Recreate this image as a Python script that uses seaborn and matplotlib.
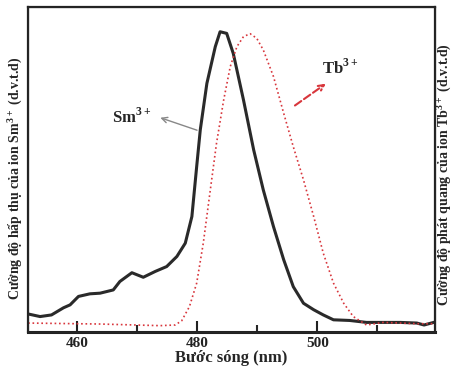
import matplotlib
matplotlib.use('Agg')
import matplotlib.pyplot as plt
from matplotlib.ticker import MultipleLocator
import seaborn as sns
import pandas as pd

# Sm3+ absorption (black) - wavelength (nm) and relative intensity
sm_wavelength = [451.8, 453.8, 455.7, 457.7, 458.8, 460.2, 462.1, 463.8, 466.0, 467.1,
                 469.1, 471.0, 473.0, 474.9, 476.6, 478.0, 479.1, 479.9, 480.5, 481.6,
                 483.0, 483.8, 484.9, 486.0, 487.7, 489.4, 491.0, 492.7, 494.4, 496.0,
                 497.7, 499.4, 501.0, 502.7, 505.4, 508.2, 511.0, 513.8, 516.6, 517.8, 519.6]
sm_intensity = [0.055, 0.047, 0.052, 0.074, 0.083, 0.109, 0.117, 0.119, 0.129, 0.155,
                0.182, 0.168, 0.186, 0.201, 0.232, 0.273, 0.355, 0.509, 0.622, 0.765,
                0.878, 0.924, 0.919, 0.857, 0.714, 0.560, 0.437, 0.324, 0.222, 0.139,
                0.088, 0.068, 0.052, 0.037, 0.035, 0.029, 0.029, 0.029, 0.027, 0.021, 0.030]

# Tb3+ emission (red dotted)
tb_wavelength = [451.8, 463.8, 473.8, 476.3, 477.4, 478.7, 479.9, 481.0, 482.1, 483.2,
                 484.4, 485.5, 486.6, 487.7, 488.8, 489.9, 491.0, 492.7, 494.4, 496.0,
                 497.7, 499.4, 501.0, 502.7, 504.4, 506.0, 507.7, 508.2, 511.0, 513.8,
                 516.6, 519.6]
tb_intensity = [0.027, 0.024, 0.019, 0.021, 0.034, 0.078, 0.150, 0.273, 0.427, 0.580,
                0.714, 0.817, 0.878, 0.909, 0.918, 0.904, 0.868, 0.786, 0.673, 0.570,
                0.468, 0.355, 0.242, 0.150, 0.088, 0.047, 0.027, 0.021, 0.029, 0.027,
                0.025, 0.025]

x_ticks = [460, 480, 500]


def main():
    sns.set_style('ticks')
    plt.rcParams['font.family'] = ['Liberation Serif', 'DejaVu Serif']
    plt.rcParams['font.weight'] = 'bold'
    plt.rcParams['mathtext.fontset'] = 'custom'
    plt.rcParams['mathtext.rm'] = 'Liberation Serif:bold'
    plt.rcParams['mathtext.bf'] = 'Liberation Serif:bold'

    sm = pd.DataFrame({'wl': sm_wavelength, 'I': sm_intensity})
    tb = pd.DataFrame({'wl': tb_wavelength, 'I': tb_intensity})

    fig = plt.figure(figsize=(4.53, 3.72), dpi=100)
    ax = fig.add_axes([0.062, 0.108, 0.898, 0.873])
    ax2 = ax.twinx()

    sns.lineplot(data=sm, x='wl', y='I', ax=ax, color='#2a2a2a', linewidth=2.2,
                 estimator=None, sort=False)
    sns.lineplot(data=tb, x='wl', y='I', ax=ax2, color='#d8363c', linewidth=1.2,
                 linestyle=':', estimator=None, sort=False)

    for a in (ax, ax2):
        a.set_xlim(451.8, 519.6)
        a.set_ylim(0, 1)
        a.set_yticks([])
        a.set_ylabel('')
    ax.set_xticks(x_ticks)
    ax.xaxis.set_minor_locator(MultipleLocator(10))
    ax.tick_params(axis='x', which='major', direction='in', length=8, width=1.5,
                   labelsize=11, pad=4, colors='#222222')
    ax.tick_params(axis='x', which='minor', direction='in', length=5, width=1.5)
    for s in ax.spines.values():
        s.set_linewidth(1.6)
        s.set_color('#222222')
    ax.spines['bottom'].set_linewidth(2.2)

    ax.set_xlabel('Bước sóng (nm)', fontsize=12, fontweight='bold', labelpad=0)

    fig.text(0.033, 0.52, r'Cường độ hấp thụ của ion Sm$^{3+}$ (d.v.t.d)',
             rotation=90, fontsize=10, fontweight='bold', ha='center', va='center')
    fig.text(0.978, 0.53, r'Cường độ phát quang của ion Tb$^{3+}$ (d.v.t.d)',
             rotation=90, fontsize=10, fontweight='bold', ha='center', va='center')

    ax.text(469.0, 0.662, r'Sm$^{3+}$', fontsize=12, fontweight='bold',
            ha='center', va='center')
    ax.annotate('', xy=(473.4, 0.662), xytext=(480.4, 0.618),
                arrowprops=dict(arrowstyle='->', color='#888888', lw=1.0))
    ax.annotate('', xy=(501.8, 0.769), xytext=(495.9, 0.692),
                arrowprops=dict(arrowstyle='->', color='#d8363c', lw=1.5,
                                linestyle='--'))
    ax.text(503.9, 0.812, r'Tb$^{3+}$', fontsize=12, fontweight='bold',
            ha='center', va='center')

    fig.savefig('out.png', dpi=100)


if __name__ == '__main__':
    main()
